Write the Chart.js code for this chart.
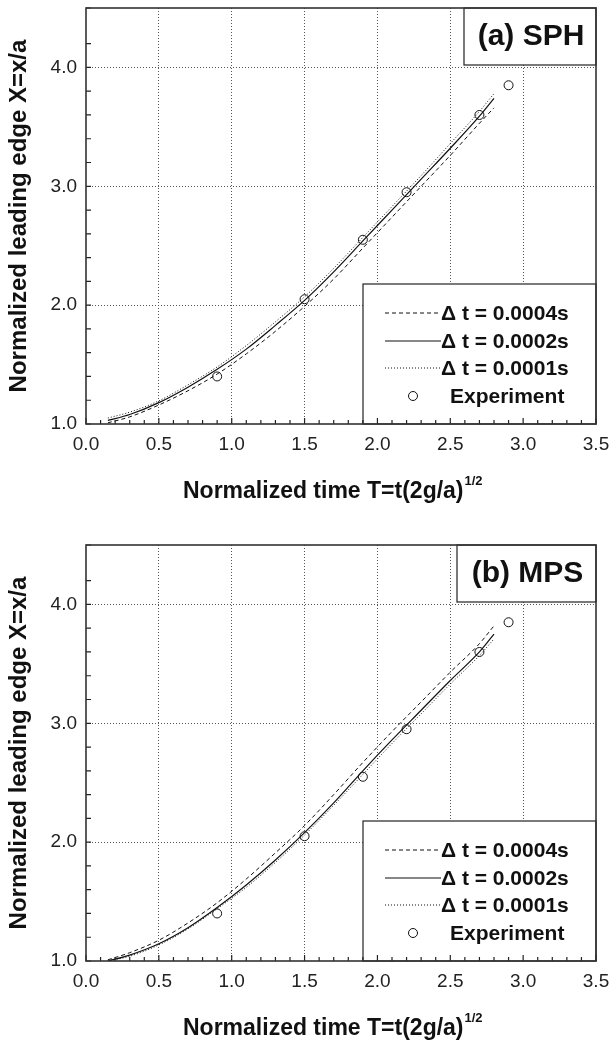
<!DOCTYPE html>
<html>
<head>
<meta charset="utf-8">
<script src="https://cdn.jsdelivr.net/npm/chart.js@4.4.0/dist/chart.umd.min.js"></script>
<style>
  html, body { margin: 0; padding: 0; background: #fff; }
  .panel { position: absolute; left: 0; width: 611px; height: 504px; }
</style>
</head>
<body>
<div class="panel" style="top:0"><canvas id="sph"></canvas></div>
<div class="panel" style="top:537px"><canvas id="mps"></canvas></div>
<script>
// Tempos das curvas simuladas (T normalizado)
const T_SIM = [0.15, 0.3, 0.5, 0.7, 0.9, 1.1, 1.3, 1.5, 1.7, 1.9, 2.1, 2.3, 2.5, 2.7, 2.8];

// (a) SPH
const SPH_DT4 = [1.01, 1.06, 1.16, 1.28, 1.42, 1.59, 1.78, 1.99, 2.22, 2.48, 2.74, 3.00, 3.26, 3.53, 3.66];
const SPH_DT2 = [1.03, 1.08, 1.18, 1.31, 1.46, 1.63, 1.83, 2.04, 2.28, 2.54, 2.80, 3.06, 3.32, 3.59, 3.74];
const SPH_DT1 = [1.05, 1.10, 1.195, 1.33, 1.48, 1.66, 1.86, 2.07, 2.31, 2.57, 2.83, 3.09, 3.36, 3.63, 3.78];

// (b) MPS
const MPS_DT4 = [1.01, 1.07, 1.175, 1.32, 1.49, 1.69, 1.91, 2.14, 2.40, 2.67, 2.93, 3.18, 3.43, 3.67, 3.82];
const MPS_DT2 = [1.00, 1.05, 1.145, 1.28, 1.45, 1.64, 1.85, 2.08, 2.33, 2.60, 2.86, 3.11, 3.36, 3.60, 3.75];
const MPS_DT1 = [1.00, 1.04, 1.135, 1.27, 1.44, 1.62, 1.83, 2.06, 2.31, 2.57, 2.83, 3.08, 3.33, 3.57, 3.71];

// Experimento
const T_EXP = [0.9, 1.5, 1.9, 2.2, 2.7, 2.9];
const X_EXP = [1.40, 2.05, 2.55, 2.95, 3.60, 3.85];

const LEGEND_LABELS = ["\u0394 t = 0.0004s", "\u0394 t = 0.0002s", "\u0394 t = 0.0001s", "Experiment"];
const X_TICK_LABELS = ["0.0", "0.5", "1.0", "1.5", "2.0", "2.5", "3.0", "3.5"];
const Y_TICK_LABELS = ["1.0", "2.0", "3.0", "4.0"];
const X_TITLE = "Normalized time T=t(2g/a)";
const X_TITLE_SUP = "1/2";
const Y_TITLE = "Normalized leading edge X=x/a";

const FONT = "'Liberation Sans', Arial, Helvetica, sans-serif";
const INK = "#111";
const DASHES = [[4, 3], [], [1, 2]];

const near = (v, step) => Math.abs(v / step - Math.round(v / step)) < 1e-6;

function toPoints(xs, ys) {
  return xs.map((x, i) => ({ x, y: ys[i] }));
}

// Caixas, legenda, moldura, ticks internos e títulos dos eixos.
const decor = {
  id: "decor",
  afterDatasetsDraw(chart, args, opts) {
    const { ctx, chartArea: a } = chart;
    ctx.save();

    // caixa do título do painel
    const tl = a.left + opts.titleBoxOffset;
    ctx.fillStyle = "#fff";
    ctx.fillRect(tl, a.top, a.right - tl, 57);
    ctx.strokeStyle = "#222";
    ctx.lineWidth = 1.2;
    ctx.strokeRect(tl, a.top, a.right - tl, 57);
    ctx.fillStyle = INK;
    ctx.font = "bold 30px " + FONT;
    ctx.textAlign = "center";
    ctx.textBaseline = "middle";
    ctx.fillText(opts.title, (tl + a.right) / 2 + 1, a.top + 29);

    // legenda
    const lx = a.left + 277, ly = a.top + 276;
    ctx.fillStyle = "#fff";
    ctx.fillRect(lx, ly, a.right - lx, a.bottom - ly);
    ctx.strokeRect(lx, ly, a.right - lx, a.bottom - ly);
    const rows = [ly + 29, ly + 57, ly + 84, ly + 112];
    ctx.font = "bold 21px " + FONT;
    ctx.textAlign = "left";
    ctx.textBaseline = "middle";
    for (let i = 0; i < 3; i++) {
      ctx.strokeStyle = INK;
      ctx.lineWidth = i === 1 ? 1.2 : 1;
      ctx.setLineDash(DASHES[i]);
      ctx.beginPath();
      ctx.moveTo(lx + 22, rows[i]);
      ctx.lineTo(lx + 78, rows[i]);
      ctx.stroke();
      ctx.setLineDash([]);
      ctx.fillStyle = INK;
      ctx.fillText(LEGEND_LABELS[i], lx + 78, rows[i] + 1);
    }
    ctx.beginPath();
    ctx.arc(lx + 50, rows[3], 4.5, 0, Math.PI * 2);
    ctx.fillStyle = "#fff";
    ctx.fill();
    ctx.lineWidth = 1;
    ctx.stroke();
    ctx.fillStyle = INK;
    ctx.fillText(LEGEND_LABELS[3], lx + 87, rows[3] + 1);
    ctx.restore();
  },
  afterDraw(chart) {
    const { ctx, chartArea: a, scales } = chart;
    ctx.save();
    ctx.strokeStyle = "#222";
    ctx.lineWidth = 1.2;
    // ticks internos
    ctx.beginPath();
    scales.x.ticks.forEach((t) => {
      const px = scales.x.getPixelForValue(t.value);
      const len = near(t.value, 0.5) ? 6 : 4;
      ctx.moveTo(px, a.bottom);
      ctx.lineTo(px, a.bottom - len);
    });
    scales.y.ticks.forEach((t) => {
      const py = scales.y.getPixelForValue(t.value);
      ctx.moveTo(a.left, py);
      ctx.lineTo(a.left + 5, py);
    });
    ctx.stroke();
    // moldura
    ctx.lineWidth = 1.6;
    ctx.strokeStyle = "#333";
    ctx.strokeRect(a.left, a.top, a.right - a.left, a.bottom - a.top);

    // títulos dos eixos
    ctx.fillStyle = INK;
    ctx.font = "bold 23px " + FONT;
    ctx.textAlign = "left";
    ctx.textBaseline = "alphabetic";
    const w = ctx.measureText(X_TITLE).width;
    const x0 = (a.left + a.right) / 2 - 158;
    ctx.fillText(X_TITLE, x0, a.bottom + 74);
    ctx.font = "bold 13px " + FONT;
    ctx.fillText(X_TITLE_SUP, x0 + w + 1, a.bottom + 61);

    ctx.translate(19, (a.top + a.bottom) / 2);
    ctx.rotate(-Math.PI / 2);
    ctx.font = "bold 24px " + FONT;
    ctx.textAlign = "center";
    ctx.textBaseline = "middle";
    ctx.fillText(Y_TITLE, 0, 0);
    ctx.restore();
  },
};

function makeChart(canvas, dt4, dt2, dt1, title, titleBoxOffset) {
  const line = (label, ys, i) => ({
    type: "line",
    label,
    data: toPoints(T_SIM, ys),
    borderColor: INK,
    borderWidth: i === 1 ? 1.2 : 1,
    borderDash: DASHES[i],
    pointRadius: 0,
    cubicInterpolationMode: "monotone",
    fill: false,
  });

  const gridColor = (major) => (ctx) =>
    ctx.tick && major(ctx.tick.value) ? "#555" : "rgba(0,0,0,0)";

  return new Chart(canvas, {
    type: "scatter",
    data: {
      datasets: [
        line(LEGEND_LABELS[0], dt4, 0),
        line(LEGEND_LABELS[1], dt2, 1),
        line(LEGEND_LABELS[2], dt1, 2),
        {
          type: "scatter",
          label: LEGEND_LABELS[3],
          data: toPoints(T_EXP, X_EXP),
          pointRadius: 4.5,
          pointBorderWidth: 1,
          borderColor: INK,
          backgroundColor: "#fff",
        },
      ],
    },
    options: {
      responsive: true,
      maintainAspectRatio: false,
      animation: false,
      layout: { padding: { top: 8, right: 15, left: 0, bottom: 0 } },
      plugins: {
        legend: { display: false },
        tooltip: { enabled: false },
        decor: { title, titleBoxOffset },
      },
      scales: {
        x: {
          type: "linear",
          min: 0,
          max: 3.5,
          afterFit: (s) => { s.height = 80; s.paddingLeft = 0; s.paddingRight = 0; },
          border: { display: false, dash: [1, 2] },
          grid: {
            drawTicks: false,
            lineWidth: 1,
            color: gridColor((v) => near(v, 0.5) && v > 0.01 && v < 3.49),
          },
          ticks: {
            stepSize: 0.1,
            maxTicksLimit: 100,
            autoSkip: false,
            maxRotation: 0,
            minRotation: 0,
            padding: 9,
            color: "#222",
            font: { family: FONT, size: 19 },
            callback: (v) => (near(v, 0.5) ? X_TICK_LABELS[Math.round(v / 0.5)] : ""),
          },
        },
        y: {
          type: "linear",
          min: 1.0,
          max: 4.5,
          afterFit: (s) => { s.width = 86; s.paddingTop = 0; s.paddingBottom = 0; },
          border: { display: false, dash: [1, 2] },
          grid: {
            drawTicks: false,
            lineWidth: 1,
            color: gridColor((v) => near(v, 1) && v > 1.01),
          },
          ticks: {
            stepSize: 0.2,
            maxTicksLimit: 100,
            autoSkip: false,
            padding: 9,
            color: "#222",
            font: { family: FONT, size: 19 },
            callback: (v) => (near(v, 1) ? Y_TICK_LABELS[Math.round(v) - 1] : ""),
          },
        },
      },
    },
    plugins: [decor],
  });
}

makeChart(document.getElementById("sph"), SPH_DT4, SPH_DT2, SPH_DT1, "(a) SPH", 378);
makeChart(document.getElementById("mps"), MPS_DT4, MPS_DT2, MPS_DT1, "(b) MPS", 371);
</script>
</body>
</html>
